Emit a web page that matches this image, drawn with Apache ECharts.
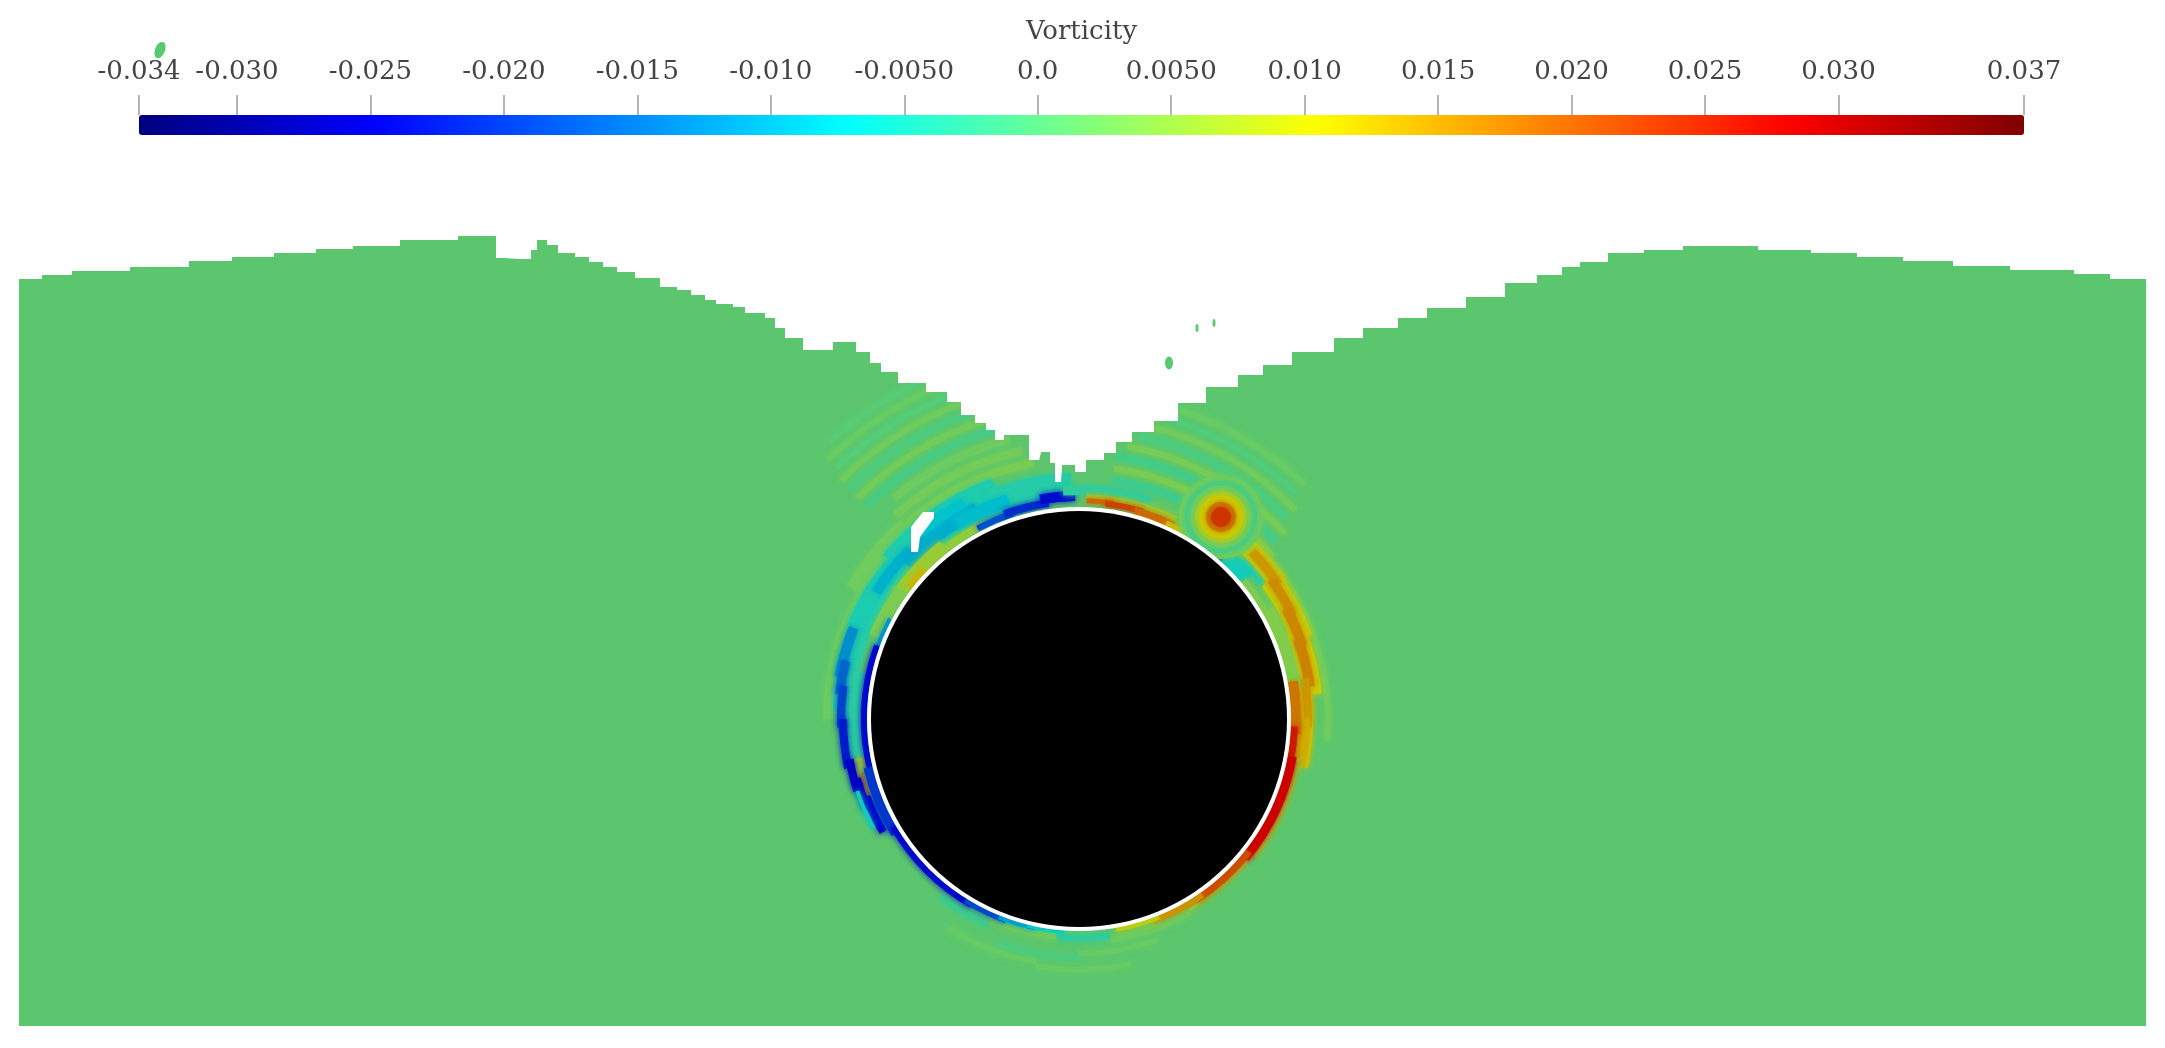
<!DOCTYPE html>
<html>
<head>
<meta charset="utf-8">
<style>
  html, body { margin: 0; background: #fff; }
  #chart { width: 2165px; height: 1048px; filter: blur(0.7px); }
</style>
<script src="https://cdn.jsdelivr.net/npm/echarts@6/dist/echarts.min.js"></script>
</head>
<body>
<div id="chart"></div>
<script>
// colour bar
const tickValues = [-0.03367, -0.03, -0.025, -0.02, -0.015, -0.01, -0.005, 0, 0.005, 0.01, 0.015, 0.02, 0.025, 0.03, 0.03695]
const tickLabels = ['-0.034', '-0.030', '-0.025', '-0.020', '-0.015', '-0.010', '-0.0050', '0.0', '0.0050', '0.010', '0.015', '0.020', '0.025', '0.030', '0.037']
const jetColors = ['#00007f', '#0000ff', '#007fff', '#00ffff', '#7fff7f', '#ffff00', '#ff7f00', '#ff0000', '#7f0000']
// same map as it looks on the lit surface of the fluid
const litColors = ['#000066', '#0000cc', '#0066cc', '#00cccc', '#66cc66', '#cccc00', '#cc6600', '#cc0000', '#660000']

// free surface, x and elevation relative to the cylinder centre
const surfaceX = [-1060, -1037, -1007, -949, -890, -847, -805, -763, -726, -679, -621, -583, -574, -553, -548, -542, -532, -521, -504, -490, -476, -462, -444, -419, -402, -388, -374, -363, -346, -334, -314, -304, -294, -276, -258, -246, -223, -209, -198, -181, -153, -132, -118, -104, -93, -84, -75, -59, -50, -40, -38, -32, -29, -24, -18, -17, -4, 7, 25, 37, 53, 75, 99, 127, 159, 184, 213, 255, 284, 319, 348, 387, 426, 458, 483, 501, 529, 565, 604, 679, 732, 778, 824, 874, 931, 995, 1031, 1067]
const surfaceZ = [440, 444, 448, 452, 458, 462, 466, 470, 473, 479, 483, 461, 460, 460, 469, 479, 474, 466, 462, 457, 452, 447, 441, 432, 429, 424, 419, 415, 412, 406, 401, 391, 381, 369, 369, 377, 367, 356, 347, 336, 327, 317, 304, 296, 289, 279, 284, 284, 259, 259, 267, 267, 256, 237, 237, 254, 247, 259, 266, 277, 287, 298, 316, 332, 344, 354, 367, 381, 391, 401, 411, 422, 436, 444, 452, 457, 466, 469, 473, 469, 466, 462, 458, 453, 449, 445, 440, 440]

// vorticity bands around the cylinder: [from deg, to deg, inner r, outer r, vorticity]
// angle is clockwise from the top of the cylinder
const ripples = [
  [8, 50, 238, 244, -0.0020], [8, 50, 250, 256, 0.0035], [8, 48, 262, 268, -0.0015], [10, 48, 274, 280, 0.0030],
  [12, 46, 286, 292, -0.0008], [14, 46, 298, 304, 0.0024], [16, 44, 310, 316, -0.0002], [18, 44, 322, 328, 0.0018],
  [-45, -10, 298, 304, -0.0010], [-45, -12, 310, 316, 0.0028], [-45, -14, 322, 328, -0.0004], [-45, -16, 334, 340, 0.0024],
  [-44, -18, 346, 352, 0.0002], [-44, -20, 358, 364, 0.0018], [-42, -24, 370, 376, 0.0004]
]
const bottomNoise = [
  [150, 172, 220, 226, 0.0022], [172, 186, 216, 222, -0.0030], [186, 204, 216, 222, 0.0030], [204, 218, 222, 228, -0.0020],
  [160, 180, 232, 237, 0.0018], [180, 200, 236, 241, -0.0006], [168, 190, 248, 253, 0.0018], [190, 212, 244, 249, 0.0018]
]
const leftHalo = [
  [-90, -60, 246, 256, 0.0022], [-60, -42, 250, 268, 0.0025],
  [-42, -10, 256, 264, 0.0032], [-42, -12, 270, 278, 0.0028], [-40, -14, 284, 292, 0.0022]
]
const leftTeal = [
  [-88, -66, 226, 246, -0.0040], [-68, -48, 226, 250, -0.0048], [-50, -20, 222, 256, -0.0045], [-22, -2, 222, 246, -0.0040],
  [-58, -45, 234, 244, -0.0095], [-48, -26, 226, 240, -0.0100], [-40, -28, 240, 250, -0.0080], [-32, -18, 224, 236, -0.0085]
]
const leftWedge = [
  [-56, -38, 213, 226, 0.0060], [-68, -54, 213, 226, 0.0035], [-52, -46, 213, 218, 0.0125], [-40, -26, 213, 220, 0.0055]
]
const leftOuter = [
  [-114, -78, 219, 234, -0.0035], [-112, -100, 218, 230, 0.0055], [-110, -104, 222, 226, 0.0150],
  [-80, -68, 238, 248, -0.0125], [-84, -76, 236, 245, -0.0160], [-92, -82, 234, 242, -0.0190], [-102, -90, 232, 240, -0.0225],
  [-108, -100, 229, 237, -0.0255], [-113, -105, 226, 234, -0.0255], [-120, -110, 222, 230, -0.0245], [-118, -108, 231, 235, -0.0060]
]
const leftWall = [
  [-28, -18, 213, 219, -0.0180], [-20, -8, 214, 222, -0.0210], [-10, -1, 218, 228, -0.0240],
  [-72, -62, 212, 216, -0.0120], [-105, -70, 212, 218, -0.0240], [-122, -103, 212, 221, -0.0200],
  [-150, -120, 212, 218, -0.0240], [-160, -148, 212, 217, -0.0185], [-168, -158, 212, 216, -0.0110], [-176, -166, 212, 215, -0.0070]
]
const rightTop = [
  [-4, 18, 224, 234, -0.0030], [2, 26, 220, 225, 0.0065], [2, 9, 216, 221, 0.0190], [7, 17, 214, 220, 0.0225],
  [15, 26, 212, 219, 0.0190], [24, 31, 212, 217, 0.0120], [30, 50, 212, 226, -0.0055], [32, 42, 212, 216, -0.0155], [46, 54, 226, 244, -0.0055]
]
const rightStrip = [
  [50, 95, 246, 252, 0.0025], [44, 56, 232, 250, 0.0090], [54, 70, 226, 248, 0.0095], [68, 84, 224, 244, 0.0105], [82, 102, 220, 234, 0.0110],
  [46, 56, 236, 245, 0.0150], [54, 64, 233, 242, 0.0160], [62, 72, 230, 240, 0.0165], [70, 82, 228, 238, 0.0170], [80, 92, 225, 233, 0.0150],
  [90, 102, 221, 231, 0.0130]
]
const rightWall = [
  [50, 62, 212, 218, 0.0035], [60, 82, 212, 224, 0.0040], [80, 94, 212, 222, 0.0180], [92, 102, 212, 219, 0.0260],
  [100, 128, 221, 225, 0.0060], [130, 150, 219, 222, 0.0050], [100, 130, 212, 221, 0.0280], [128, 147, 212, 219, 0.0215],
  [145, 160, 212, 218, 0.0155], [158, 170, 212, 216, 0.0090]
]
// eddy on the upper right: centre x, centre z, and [inner r, outer r, vorticity]
const eddyCentre = [142, 202]
const eddyRings = [[36, 42, 0.0028], [31, 36, -0.0015], [26, 31, 0.0020], [22, 26, 0.0059], [15, 22, 0.0105], [10, 15, 0.0175], [0, 10, 0.0236]]

// gap in the fluid left of the cylinder top
const gapOutline = [[-145, 207], [-156, 207], [-168, 192], [-168, 167], [-161, 167], [-159, 182], [-145, 201]]
// droplets: x, z, width, height, rotation
const droplets = [[-919, 669, 10, 17, -22], [90, 356, 8, 13, 0], [118, 391, 3, 8, 0], [135, 396, 3, 8, 0]]
// cylinder: white rim then solid body
const cylinderCentre = [0, 0]
const cylinderRadii = [212, 208]

const bands = [].concat(ripples, bottomNoise, leftHalo, leftTeal, leftWedge, leftOuter, leftWall, rightTop, rightStrip, rightWall)
const fieldData = bands.map(b => [cylinderCentre[0], cylinderCentre[1], b[2], b[3], b[0], b[1], b[4]])
  .concat(eddyRings.map(r => [eddyCentre[0], eddyCentre[1], r[0], r[1], 0, 360, r[2]]))

function renderBand(params, api) {
  const c = api.coord([api.value(0), api.value(1)])
  const color = api.visual('color')
  return {
    type: 'sector',
    shape: {
      cx: c[0],
      cy: c[1],
      r0: api.size([api.value(2), 0])[0],
      r: api.size([api.value(3), 0])[0],
      startAngle: (api.value(4) - 90) * Math.PI / 180,
      endAngle: (api.value(5) - 90) * Math.PI / 180,
      clockwise: true
    },
    // soft edges, the field is a smoothed picture in the original
    style: { fill: color, shadowBlur: 6, shadowColor: color }
  }
}

function renderGap(params, api) {
  return {
    type: 'polygon',
    shape: { points: gapOutline.map(p => api.coord(p)) },
    style: { fill: '#fff' }
  }
}

function renderCylinder(params, api) {
  const c = api.coord([api.value(0), api.value(1)])
  return {
    type: 'circle',
    shape: { cx: c[0], cy: c[1], r: api.size([api.value(2), 0])[0] },
    style: { fill: params.dataIndex === 0 ? '#fff' : '#000' }
  }
}

const option = {
  animation: false,
  backgroundColor: '#fff',
  grid: [
    { left: 19, top: 0, width: 2127, height: 1026 },
    { left: 139, top: 115, width: 1885, height: 20 }
  ],
  xAxis: [
    { gridIndex: 0, type: 'value', min: -1060, max: 1067, show: false },
    {
      gridIndex: 1,
      type: 'value',
      min: tickValues[0],
      max: tickValues[tickValues.length - 1],
      position: 'top',
      z: 10,
      name: 'Vorticity',
      nameLocation: 'middle',
      nameGap: 70,
      nameTextStyle: { fontFamily: 'DejaVu Serif', fontSize: 26, color: '#444' },
      axisLine: { show: false, onZero: false },
      splitLine: { show: false },
      axisTick: { customValues: tickValues, length: 20, lineStyle: { color: '#b5b5b5', width: 2 } },
      axisLabel: {
        customValues: tickValues,
        margin: 30,
        fontFamily: 'DejaVu Serif',
        fontSize: 26,
        color: '#444',
        showMinLabel: true,
        showMaxLabel: true,
        hideOverlap: false,
        formatter: value => tickLabels[tickValues.indexOf(value)]
      }
    }
  ],
  yAxis: [
    { gridIndex: 0, type: 'value', min: -307, max: 719, show: false },
    { gridIndex: 1, type: 'value', min: 0, max: 1, show: false }
  ],
  visualMap: [
    {
      type: 'continuous',
      seriesIndex: 0,
      min: tickValues[0],
      max: tickValues[tickValues.length - 1],
      orient: 'horizontal',
      left: 139,
      top: 115,
      padding: 0,
      itemWidth: 20,
      itemHeight: 1885,
      z: 9,
      inRange: { color: jetColors }
    },
    {
      type: 'continuous',
      show: false,
      seriesIndex: 2,
      dimension: 6,
      min: tickValues[0],
      max: tickValues[tickValues.length - 1],
      inRange: { color: litColors }
    }
  ],
  series: [
    { type: 'scatter', xAxisIndex: 1, yAxisIndex: 1, data: [] },
    {
      type: 'line',
      step: 'end',
      z: 1,
      symbol: 'none',
      lineStyle: { width: 0 },
      areaStyle: { color: '#5bc66d', opacity: 1, origin: 'start' },
      data: surfaceX.map((x, i) => [x, surfaceZ[i]])
    },
    {
      type: 'custom',
      z: 2,
      renderItem: renderBand,
      encode: { x: 0, y: 1 },
      data: fieldData
    },
    {
      type: 'line',
      step: 'end',
      z: 3,
      symbol: 'none',
      lineStyle: { width: 0 },
      areaStyle: { color: '#fff', opacity: 1, origin: 'end' },
      data: surfaceX.map((x, i) => [x, surfaceZ[i]])
    },
    {
      type: 'custom',
      z: 4,
      renderItem: renderGap,
      data: [gapOutline[0]]
    },
    {
      type: 'custom',
      z: 4,
      renderItem: renderCylinder,
      encode: { x: 0, y: 1 },
      data: cylinderRadii.map(r => [cylinderCentre[0], cylinderCentre[1], r])
    },
    {
      type: 'scatter',
      z: 5,
      clip: false,
      symbolSize: (v, p) => [droplets[p.dataIndex][2], droplets[p.dataIndex][3]],
      symbolRotate: (v, p) => droplets[p.dataIndex][4],
      itemStyle: { color: '#55ca6e', opacity: 1 },
      data: droplets.map(d => [d[0], d[1]])
    }
  ]
}

const chart = echarts.init(document.getElementById('chart'))
chart.setOption(option)
window.addEventListener('resize', () => chart.resize())
</script>
</body>
</html>
